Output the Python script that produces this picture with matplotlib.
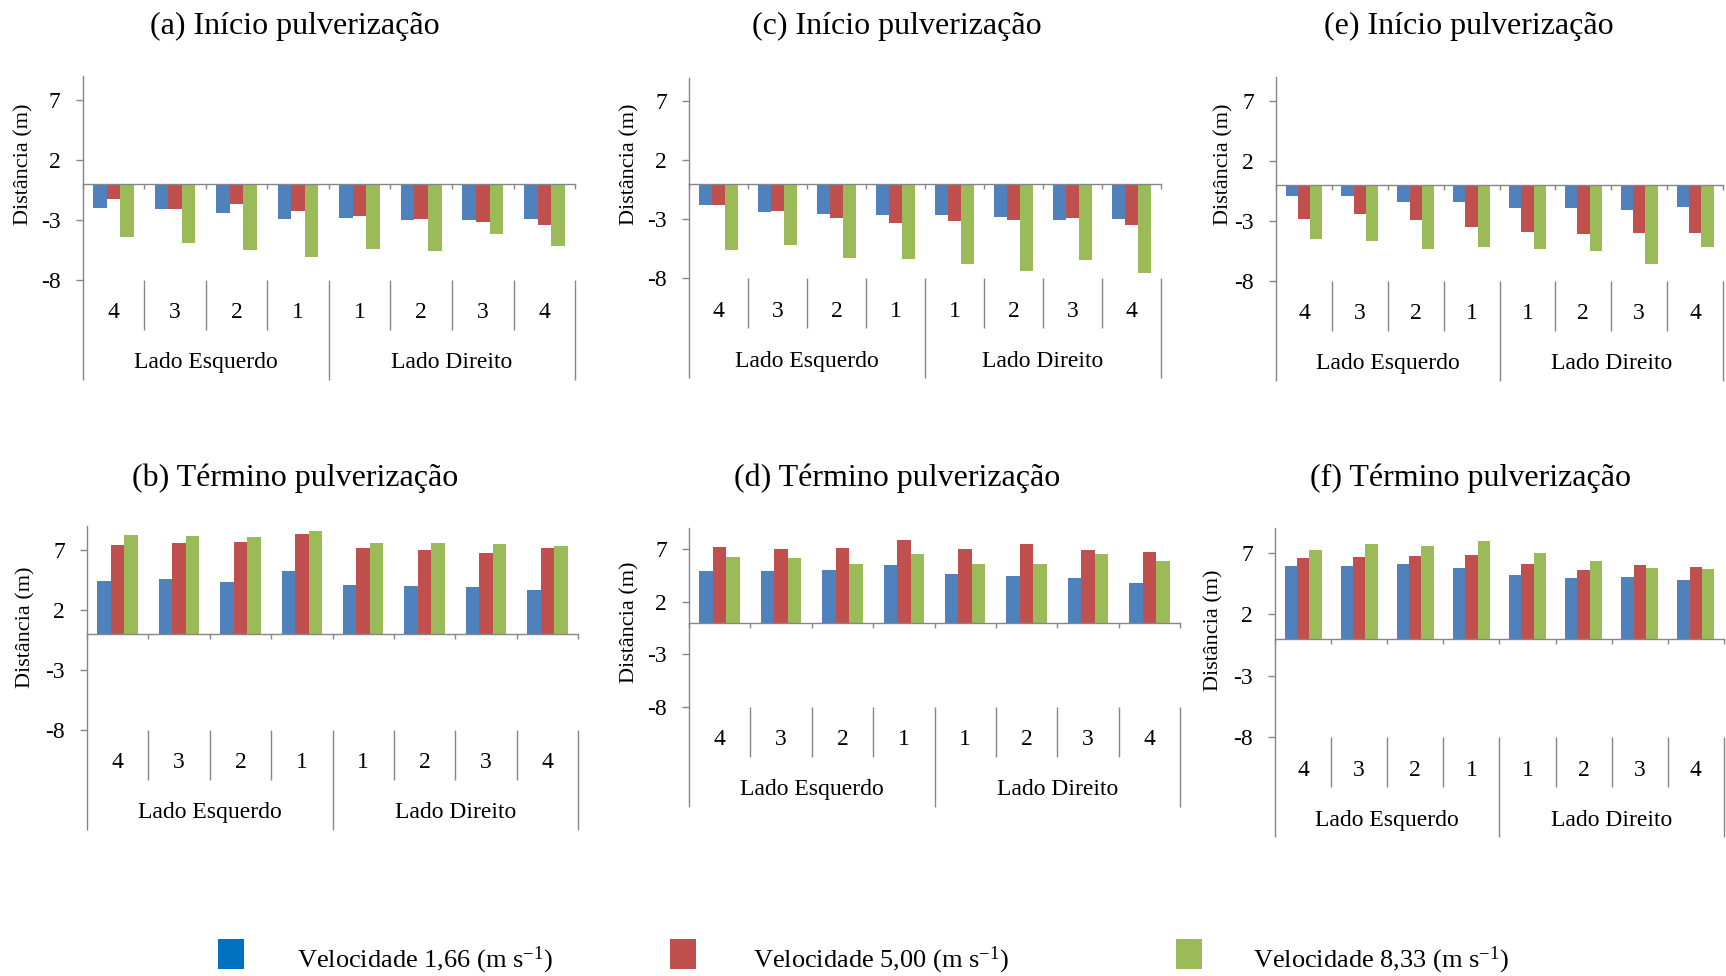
import matplotlib
matplotlib.use("Agg")
import matplotlib.pyplot as plt
from matplotlib.patches import Rectangle
import numpy as np

plt.rcParams['font.family'] = ['Liberation Serif', 'DejaVu Serif']
plt.rcParams['mathtext.fontset'] = 'custom'
plt.rcParams['mathtext.rm'] = 'Liberation Serif'
plt.rcParams['mathtext.it'] = 'Liberation Serif:italic'

# categories (bico position on each side of the boom)
positions = ['4', '3', '2', '1', '1', '2', '3', '4']
sides = ['Lado Esquerdo', 'Lado Direito']
series_names = ['Velocidade 1,66 (m s$^{-1}$)',
                'Velocidade 5,00 (m s$^{-1}$)',
                'Velocidade 8,33 (m s$^{-1}$)']

# (a) Início pulverização
a_v166 = [-2.0, -2.1, -2.45, -2.9, -2.85, -3.0, -3.0, -2.9]
a_v500 = [-1.25, -2.1, -1.7, -2.25, -2.7, -2.95, -3.15, -3.4]
a_v833 = [-4.4, -4.95, -5.5, -6.1, -5.45, -5.6, -4.2, -5.2]
# (b) Término pulverização
b_v166 = [4.47, 4.58, 4.39, 5.31, 4.11, 4.0, 3.92, 3.69]
b_v500 = [7.47, 7.58, 7.67, 8.39, 7.22, 7.0, 6.81, 7.17]
b_v833 = [8.31, 8.17, 8.11, 8.58, 7.64, 7.58, 7.5, 7.39]
# (c) Início pulverização
c_v166 = [-1.78, -2.35, -2.5, -2.6, -2.6, -2.8, -3.07, -2.95]
c_v500 = [-1.78, -2.32, -2.84, -3.32, -3.15, -3.04, -2.92, -3.47]
c_v833 = [-5.55, -5.13, -6.27, -6.33, -6.79, -7.39, -6.42, -7.56]
# (d) Término pulverização
d_v166 = [4.89, 4.89, 4.98, 5.53, 4.63, 4.5, 4.28, 3.83]
d_v500 = [7.25, 7.03, 7.12, 7.86, 7.06, 7.51, 6.96, 6.74]
d_v833 = [6.29, 6.2, 5.59, 6.52, 5.62, 5.56, 6.52, 5.85]
# (e) Início pulverização
e_v166 = [-0.93, -0.93, -1.46, -1.43, -1.91, -1.88, -2.08, -1.83]
e_v500 = [-2.81, -2.42, -2.92, -3.48, -3.96, -4.13, -4.02, -3.99]
e_v833 = [-4.55, -4.72, -5.34, -5.22, -5.39, -5.53, -6.57, -5.17]
# (f) Término pulverização
f_v166 = [5.89, 5.92, 6.08, 5.76, 5.16, 4.92, 5.0, 4.81]
f_v500 = [6.54, 6.68, 6.76, 6.84, 6.08, 5.57, 5.97, 5.81]
f_v833 = [7.22, 7.68, 7.54, 7.95, 6.95, 6.32, 5.76, 5.7]

yticks = [-8, -3, 2, 7]

bar_colors = ['#4F81BD', '#C0504D', '#9BBB59']
legend_colors = ['#0070C0', '#C0504D', '#9BBB59']
axis_color = '#868686'

W, H = 1726, 976
fig = plt.figure(figsize=(W / 100, H / 100), dpi=100)

# panel: title, data, axes rect [left, bottom, width, height] (fig fraction),
# title position (px), ylabel position (px)
panels = [
    ('(a) Início pulverização', (a_v166, a_v500, a_v833),
     [0.0479, 0.7135, 0.2853, 0.2083], (295, 26), (24, 164)),
    ('(b) Término pulverização', (b_v166, b_v500, b_v833),
     [0.0504, 0.2523, 0.2845, 0.2083], (295, 478), (26, 627)),
    ('(c) Início pulverização', (c_v166, c_v500, c_v833),
     [0.3992, 0.7147, 0.2735, 0.2057], (897, 26), (630, 164)),
    ('(d) Término pulverização', (d_v166, d_v500, d_v833),
     [0.3992, 0.2759, 0.2845, 0.1828], (897, 478), (630, 622)),
    ('(e) Início pulverização', (e_v166, e_v500, e_v833),
     [0.7393, 0.7124, 0.2590, 0.2083], (1469, 26), (1224, 164)),
    ('(f) Término pulverização', (f_v166, f_v500, f_v833),
     [0.7387, 0.2444, 0.2601, 0.2147], (1470, 478), (1214, 630)),
]

x = np.arange(len(positions))
bw = 0.22

for title, series, rect, tpos, lpos in panels:
    ax = fig.add_axes(rect)
    for k, vals in enumerate(series):
        ax.bar(x + (k - 1) * bw, vals, bw, color=bar_colors[k], linewidth=0)
    ax.set_xlim(-0.5, len(positions) - 0.5)
    ax.set_ylim(-8, 9)
    ax.set_yticks(yticks)
    ax.set_yticklabels([str(t) for t in yticks], fontsize=17)
    ax.set_xticks(np.arange(len(positions) + 1) - 0.5)
    ax.set_xticklabels([])
    ax.tick_params(axis='y', direction='out', length=5, width=1,
                   color=axis_color, pad=11)
    ax.tick_params(axis='x', direction='out', length=3.5, width=1,
                   color=axis_color)
    for s in ['top', 'right']:
        ax.spines[s].set_visible(False)
    ax.spines['bottom'].set_position(('data', 0))
    for s in ['left', 'bottom']:
        ax.spines[s].set_color(axis_color)
        ax.spines[s].set_linewidth(1)

    # two-level category labels below the plot area
    h_px = rect[3] * H
    tr = ax.get_xaxis_transform()
    for i, lab in enumerate(positions):
        ax.annotate(lab, xy=(i, 0), xycoords=tr, xytext=(0, -33),
                    textcoords='offset pixels', ha='center', va='center',
                    fontsize=17)
    for j, side in enumerate(sides):
        ax.annotate(side, xy=(1.5 + 4 * j, 0), xycoords=tr, xytext=(0, -83),
                    textcoords='offset pixels', ha='center', va='center',
                    fontsize=17)
    for b in np.arange(len(positions) + 1) - 0.5:
        depth = 100 if b in (-0.5, 3.5, 7.5) else 50
        ax.plot([b, b], [0, -depth / h_px], transform=tr, color=axis_color,
                lw=1, clip_on=False, solid_capstyle='butt')

    fig.text(tpos[0] / W, 1 - tpos[1] / H, title, ha='center', va='center',
             fontsize=23)
    fig.text(lpos[0] / W, 1 - lpos[1] / H, 'Distância (m)', ha='center',
             va='center', rotation=90, fontsize=16)

# legend drawn at the bottom
legend_boxes = [218, 670, 1176]
legend_texts = [297, 753, 1253]
for k in range(3):
    fig.add_artist(Rectangle((legend_boxes[k] / W, 1 - 969 / H), 26 / W, 30 / H,
                             transform=fig.transFigure,
                             facecolor=legend_colors[k], edgecolor='none'))
    fig.text(legend_texts[k] / W, 1 - 960 / H, series_names[k], ha='left',
             va='center', fontsize=19)

fig.savefig('out.png', dpi=100)
